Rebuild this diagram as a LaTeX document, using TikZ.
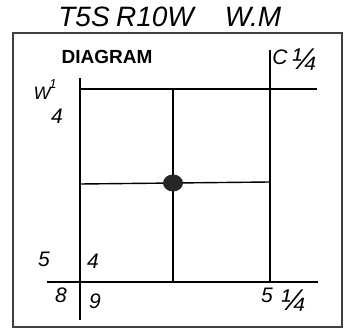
\documentclass[tikz,border=0pt]{standalone}
\usepackage{fontspec}
\setmainfont{Liberation Sans}
\begin{document}
\begin{tikzpicture}[x=1pt,y=-1pt,
  frame/.style={draw=black!75,line width=2.4pt},
  gridline/.style={draw=black,line width=1.4pt},
  hand/.style={inner sep=0pt,font=\itshape\fontsize{21}{21}\selectfont},
  frac/.style={inner sep=0pt,font=\itshape\fontsize{30}{30}\selectfont},
  titletext/.style={inner sep=0pt,font=\itshape\fontsize{28}{28}\selectfont},
  small/.style={inner sep=0pt,font=\itshape\fontsize{13}{13}\selectfont}]
\useasboundingbox (0,0) rectangle (346,329);
% frame
\draw[frame] (13,33) rectangle (342,327);
% grid coordinates
\coordinate (tlA) at (80,78);
\coordinate (tl) at (80,89);
\coordinate (tr) at (317,89);
\coordinate (rtop) at (270,50);
\coordinate (rbot) at (270,282);
\coordinate (mtop) at (173,89);
\coordinate (mbot) at (173,282);
\coordinate (ml) at (80,184);
\coordinate (mr) at (270,182);
\coordinate (bl) at (47,282);
\coordinate (br) at (318,282);
\coordinate (lbot) at (80,320);
% lines
\draw[gridline] (tlA) -- (lbot);
\draw[gridline] (tl) -- (tr);
\draw[gridline] (rtop) -- (rbot);
\draw[gridline] (mtop) -- (mbot);
\draw[gridline] (ml) -- (mr);
\draw[gridline] (bl) -- (br);
% centre dot
\fill[black!85] (173,183) ellipse [x radius=10pt,y radius=8.5pt];
% texts
\node[titletext] (t1) at (84,17) {T5S};
\node[titletext] (t2) at (155,17) {R10W};
\node[titletext] (t3) at (253,17) {W.M};
\node[inner sep=0pt,font=\bfseries\fontsize{19}{19}\selectfont] (diag) at (107,57) {DIAGRAM};
\node[hand] (c) at (280,57) {C};
\node[frac] (cq) at (304,60) {¼};
\node[hand,font=\itshape\fontsize{18}{18}\selectfont] (w) at (42,93) {W};
\node[small] (w1) at (53,84) {1};
\node[hand] (w4) at (57,116) {4};
\node[hand] (n5) at (44,259) {5};
\node[hand] (n4) at (93,261) {4};
\node[hand] (n8) at (61,295) {8};
\node[hand] (n9) at (95,301) {9};
\node[hand] (s5) at (267,295) {5};
\node[frac] (sq) at (293,301) {¼};
\end{tikzpicture}
\end{document}
